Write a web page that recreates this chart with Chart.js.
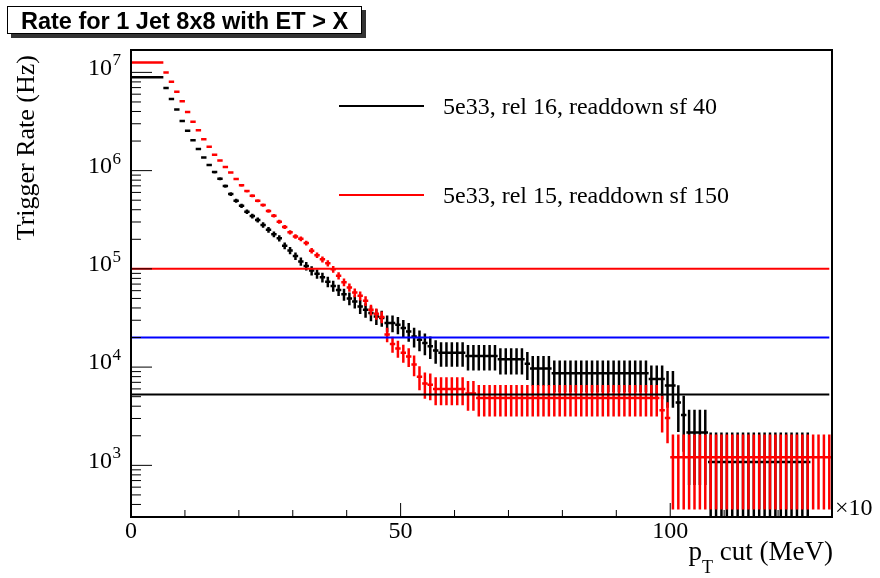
<!DOCTYPE html>
<html>
<head>
<meta charset="utf-8">
<script src="https://cdn.jsdelivr.net/npm/chart.js@4.4.1/dist/chart.umd.min.js"></script>
<style>
  html, body { margin: 0; padding: 0; background: #fff; }
</style>
</head>
<body>
<canvas id="rateChart" width="880" height="578"></canvas>
<script>
/* DATA */
const binWidth = 1;                 // x axis is in units of 10 MeV
const xMax = 130;
const yMin = 298, yMax = 1.69e7;

// rel 16, readdown sf 40 (black)
const rel16Rate = [
  8.9e6, 8.9e6, 8.9e6, 8.9e6, 8.9e6, 8.9e6, 6.93e6, 5.36e6, 4.18e6, 3.2e6,
  2.54e6, 2.04e6, 1.66e6, 1.36e6, 1.14e6, 9.66e5, 8.26e5, 6.97e5, 5.77e5, 4.93e5,
  4.39e5, 3.82e5, 3.45e5, 3.15e5, 2.8e5, 2.5e5, 2.25e5, 2.05e5, 1.72e5, 1.54e5,
  1.35e5, 1.19e5, 1.07e5, 9.6e4, 8.9e4, 8.2e4, 7.4e4, 6.7e4, 6.1e4, 5.5e4,
  5.0e4, 4.66e4, 4.14e4, 3.83e4, 3.55e4, 3.28e4, 3.16e4, 2.81e4, 2.81e4, 2.7e4,
  2.5e4, 2.31e4, 2.05e4, 1.9e4, 1.76e4, 1.63e4, 1.48e4, 1.4e4, 1.4e4, 1.4e4,
  1.4e4, 1.4e4, 1.3e4, 1.3e4, 1.3e4, 1.3e4, 1.3e4, 1.3e4, 1.2e4, 1.2e4,
  1.2e4, 1.2e4, 1.2e4, 1.08e4, 9.7e3, 9.7e3, 9.7e3, 9.7e3, 8.65e3, 8.65e3,
  8.65e3, 8.65e3, 8.65e3, 8.65e3, 8.65e3, 8.65e3, 8.65e3, 8.65e3, 8.65e3, 8.65e3,
  8.65e3, 8.65e3, 8.65e3, 8.65e3, 8.65e3, 8.65e3, 7.55e3, 7.55e3, 7.55e3, 6.5e3,
  6.5e3, 4.35e3, 3.25e3, 2.16e3, 2.16e3, 2.16e3, 2.16e3, 1.08e3, 1.08e3, 1.08e3,
  1.08e3, 1.08e3, 1.08e3, 1.08e3, 1.08e3, 1.08e3, 1.08e3, 1.08e3, 1.08e3, 1.08e3,
  1.08e3, 1.08e3, 1.08e3, 1.08e3, 1.08e3, 1.08e3, 0, 0, 0, 0
];

// rel 15, readdown sf 150 (red)
const rel15Rate = [
  1.26e7, 1.26e7, 1.26e7, 1.26e7, 1.26e7, 1.26e7, 1.0e7, 8.05e6, 6.37e6, 5.08e6,
  3.95e6, 3.15e6, 2.58e6, 2.09e6, 1.75e6, 1.45e6, 1.27e6, 1.09e6, 9.58e5, 8.2e5,
  7.08e5, 6.2e5, 5.55e5, 4.93e5, 4.46e5, 3.88e5, 3.48e5, 3.02e5, 2.67e5, 2.36e5,
  2.14e5, 2.02e5, 1.83e5, 1.53e5, 1.38e5, 1.25e5, 1.14e5, 9.9e4, 8.5e4, 7.3e4,
  6.46e4, 5.74e4, 5.32e4, 4.73e4, 3.83e4, 3.49e4, 3.23e4, 2.15e4, 1.72e4, 1.55e4,
  1.4e4, 1.28e4, 1.06e4, 8.0e3, 6.8e3, 6.6e3, 6.0e3, 6.0e3, 6.0e3, 6.0e3,
  6.0e3, 6.0e3, 5.4e3, 5.4e3, 4.85e3, 4.85e3, 4.85e3, 4.85e3, 4.85e3, 4.85e3,
  4.85e3, 4.85e3, 4.85e3, 4.85e3, 4.85e3, 4.85e3, 4.85e3, 4.85e3, 4.85e3, 4.85e3,
  4.85e3, 4.85e3, 4.85e3, 4.85e3, 4.85e3, 4.85e3, 4.85e3, 4.85e3, 4.85e3, 4.85e3,
  4.85e3, 4.85e3, 4.85e3, 4.85e3, 4.85e3, 4.85e3, 4.85e3, 4.85e3, 3.64e3, 3.03e3,
  1.21e3, 1.21e3, 1.21e3, 1.21e3, 1.21e3, 1.21e3, 1.21e3, 1.21e3, 1.21e3, 1.21e3,
  1.21e3, 1.21e3, 1.21e3, 1.21e3, 1.21e3, 1.21e3, 1.21e3, 1.21e3, 1.21e3, 1.21e3,
  1.21e3, 1.21e3, 1.21e3, 1.21e3, 1.21e3, 1.21e3, 1.21e3, 1.21e3, 1.21e3, 1.21e3
];

// rate of a single entry, gives the sqrt(N) error bars
const rel16Weight = 1080;
const rel15Weight = 605;

const seriesLabels = ["5e33, rel 16, readdown sf 40", "5e33, rel 15, readdown sf 150"];
const seriesColors = ["#000000", "#ff0000"];

// horizontal threshold lines
const thresholds = [1e5, 2e4, 5.25e3];
const thresholdColors = ["#ff0000", "#0000ff", "#000000"];

const xLabelValues = [0, 50, 100];
const yLabelValues = [1e3, 1e4, 1e5, 1e6, 1e7];
const yLabelBase = "10";
const yLabelExp = ["3", "4", "5", "6", "7"];

const serif = "'Liberation Serif', 'Times New Roman', serif";

/* HISTOGRAM POINTS: bin bar + error bar per bin, null breaks the line */
function histPoints(rates, weight) {
  const pts = [];
  rates.forEach((v, i) => {
    if (!v) return;
    const lo = i * binWidth, hi = lo + binWidth, mid = lo + binWidth / 2;
    const err = Math.sqrt(v * weight);
    pts.push({x: lo, y: v}, {x: hi, y: v}, {x: hi, y: null});
    pts.push({x: mid, y: Math.max(v - err, yMin)}, {x: mid, y: v + err}, {x: mid, y: null});
  });
  return pts;
}

const datasets = thresholds.map((t, i) => ({
  label: "threshold " + t,
  data: [{x: 0, y: t}, {x: 129.5, y: t}],
  borderColor: thresholdColors[i],
  borderWidth: 2,
  order: 0
}));

datasets.push({
  label: seriesLabels[1],
  data: histPoints(rel15Rate, rel15Weight),
  borderColor: seriesColors[1],
  borderWidth: 2.5,
  order: 1
});
datasets.push({
  label: seriesLabels[0],
  data: histPoints(rel16Rate, rel16Weight),
  borderColor: seriesColors[0],
  borderWidth: 2.5,
  order: 2
});

/* FRAME, TICKS, TEXT */
const rootDecor = {
  id: "rootDecor",
  afterDatasetsDraw(chart) {
    const {ctx, chartArea: a, scales: {x, y}} = chart;
    ctx.save();
    ctx.strokeStyle = "#000";
    ctx.lineWidth = 1;
    ctx.beginPath();
    for (let v = 10; v < xMax; v += 10) {
      const px = x.getPixelForValue(v);
      const len = xLabelValues.includes(v) ? 14 : 7;
      ctx.moveTo(px, a.bottom);
      ctx.lineTo(px, a.bottom - len);
    }
    for (let e = 2; e <= 7; e++) {
      for (let k = 1; k <= 9; k++) {
        const v = k * Math.pow(10, e);
        if (v < yMin || v > yMax) continue;
        const py = y.getPixelForValue(v);
        ctx.moveTo(a.left, py);
        ctx.lineTo(a.left + (k === 1 ? 21 : 10), py);
      }
    }
    ctx.stroke();
    ctx.lineWidth = 2;
    ctx.strokeRect(a.left, a.top, a.right - a.left, a.bottom - a.top);
    ctx.restore();
  },
  afterDraw(chart) {
    const {ctx, chartArea: a, scales: {y}} = chart;
    ctx.save();

    // exponents of the y labels
    ctx.fillStyle = "#000";
    ctx.font = "17px " + serif;
    ctx.textAlign = "left";
    yLabelValues.forEach((v, i) => {
      ctx.fillText(yLabelExp[i], 112.5, y.getPixelForValue(v) - 7);
    });

    // title box with shadow
    ctx.fillStyle = "#333";
    ctx.fillRect(11, 10, 355, 28);
    ctx.fillStyle = "#fff";
    ctx.fillRect(7, 6, 355, 28);
    ctx.strokeStyle = "#000";
    ctx.lineWidth = 1;
    ctx.strokeRect(7.5, 6.5, 354, 27);
    ctx.fillStyle = "#000";
    ctx.font = "bold 23.5px 'Liberation Sans', Arial, sans-serif";
    ctx.textAlign = "center";
    ctx.textBaseline = "alphabetic";
    ctx.fillText("Rate for 1 Jet 8x8 with ET > X", 184.5, 28.5);

    // legend
    ctx.textAlign = "left";
    ctx.font = "24px " + serif;
    [[106, 0], [195, 1]].forEach(([ly, s]) => {
      ctx.strokeStyle = seriesColors[s];
      ctx.lineWidth = 2;
      ctx.beginPath();
      ctx.moveTo(339, ly);
      ctx.lineTo(424, ly);
      ctx.stroke();
      ctx.fillStyle = "#000";
      ctx.fillText(seriesLabels[s], 443, ly + 7.5);
    });

    // y title, aligned to top of axis
    ctx.save();
    ctx.translate(34, a.top + 5);
    ctx.rotate(-Math.PI / 2);
    ctx.textAlign = "right";
    ctx.font = "26px " + serif;
    ctx.fillText("Trigger Rate (Hz)", 0, 0);
    ctx.restore();

    // x title p_T cut (MeV), aligned to right of axis
    const big = "27px " + serif, small = "18px " + serif;
    ctx.font = big;
    const rest = " cut (MeV)";
    const wRest = ctx.measureText(rest).width;
    const wP = ctx.measureText("p").width;
    ctx.font = small;
    const wT = ctx.measureText("T").width;
    let tx = a.right + 1 - wRest - wT - wP;
    ctx.font = big;
    ctx.fillText("p", tx, 560);
    ctx.font = small;
    ctx.fillText("T", tx + wP, 573);
    ctx.font = big;
    ctx.fillText(rest, tx + wP + wT, 560);

    // axis multiplier
    ctx.font = "24px " + serif;
    ctx.fillText("×10", a.right + 3, 515);

    ctx.restore();
  }
};

/* CHART */
new Chart(document.getElementById("rateChart"), {
  type: "line",
  data: { datasets },
  options: {
    responsive: false,
    animation: false,
    events: [],
    spanGaps: false,
    layout: { padding: { top: 50, right: 48, bottom: 0, left: 0 } },
    elements: {
      line: { tension: 0, fill: false, borderCapStyle: "butt" },
      point: { radius: 0 }
    },
    plugins: { legend: { display: false }, tooltip: { enabled: false } },
    scales: {
      x: {
        type: "linear",
        min: 0,
        max: xMax,
        grid: { display: false, drawTicks: false },
        border: { display: false },
        afterBuildTicks: s => { s.ticks = xLabelValues.map(v => ({value: v})); },
        afterFit: s => { s.height = 61; },
        ticks: {
          font: { family: serif, size: 24 },
          color: "#000",
          padding: 0,
          maxRotation: 0,
          autoSkip: false
        }
      },
      y: {
        type: "logarithmic",
        min: yMin,
        max: yMax,
        grid: { display: false, drawTicks: false },
        border: { display: false },
        afterBuildTicks: s => { s.ticks = yLabelValues.map(v => ({value: v})); },
        afterFit: s => { s.width = 131; },
        ticks: {
          font: { family: serif, size: 24 },
          color: "#000",
          padding: 19,
          labelOffset: -4,
          autoSkip: false,
          callback: () => yLabelBase
        }
      }
    }
  },
  plugins: [rootDecor]
});
</script>
</body>
</html>
